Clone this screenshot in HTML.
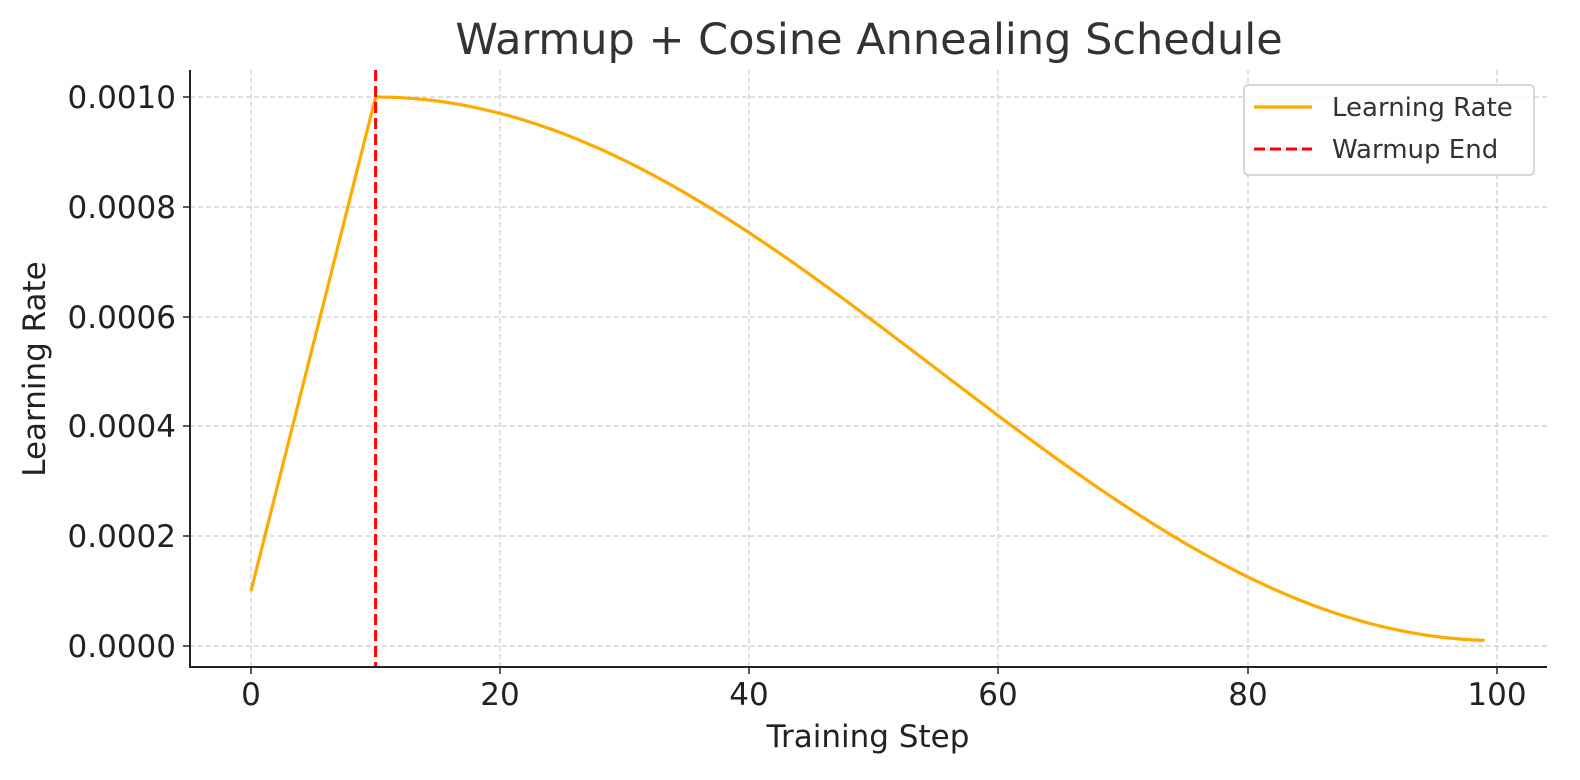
<!DOCTYPE html>
<html><head><meta charset="utf-8"><style>
html,body{margin:0;padding:0;background:#fff;}
svg{display:block;font-family:"DejaVu Sans","Liberation Sans",sans-serif;}
</style></head><body>
<svg id="s" width="1580" height="780" viewBox="0 0 1580 780" xmlns="http://www.w3.org/2000/svg">
<rect width="1580" height="780" fill="#fff"/>
<g stroke="#cccccc" stroke-width="1.2" stroke-dasharray="5,3">
<line x1="251" y1="70" x2="251" y2="667"/><line x1="500" y1="70" x2="500" y2="667"/><line x1="749" y1="70" x2="749" y2="667"/><line x1="998" y1="70" x2="998" y2="667"/><line x1="1248" y1="70" x2="1248" y2="667"/><line x1="1497" y1="70" x2="1497" y2="667"/>
<line x1="190" y1="97" x2="1547" y2="97"/><line x1="190" y1="207" x2="1547" y2="207"/><line x1="190" y1="317" x2="1547" y2="317"/><line x1="190" y1="426" x2="1547" y2="426"/><line x1="190" y1="536" x2="1547" y2="536"/><line x1="190" y1="646" x2="1547" y2="646"/>
</g>
<path id="c" fill="none" stroke="#FFAA00" stroke-width="3.2" stroke-linejoin="round"/>
<line x1="375.6" y1="70" x2="375.6" y2="667" stroke="#ff0000" stroke-width="3" stroke-dasharray="11,5"/>
<g stroke="#222" stroke-width="2"><line x1="190" y1="70" x2="190" y2="668"/><line x1="189" y1="667" x2="1547" y2="667"/></g>
<g stroke="#222" stroke-width="1.5">
<line x1="251" y1="667" x2="251" y2="674"/><line x1="500" y1="667" x2="500" y2="674"/><line x1="749" y1="667" x2="749" y2="674"/><line x1="998" y1="667" x2="998" y2="674"/><line x1="1248" y1="667" x2="1248" y2="674"/><line x1="1497" y1="667" x2="1497" y2="674"/>
<line x1="183" y1="97" x2="190" y2="97"/><line x1="183" y1="207" x2="190" y2="207"/><line x1="183" y1="317" x2="190" y2="317"/><line x1="183" y1="426" x2="190" y2="426"/><line x1="183" y1="536" x2="190" y2="536"/><line x1="183" y1="646" x2="190" y2="646"/>
</g>
<g fill="#222" font-size="31" text-anchor="middle">
<text x="251" y="705">0</text><text x="500" y="705">20</text><text x="749" y="705">40</text><text x="998" y="705">60</text><text x="1248" y="705">80</text><text x="1497" y="705">100</text>
</g>
<g fill="#222" font-size="31" text-anchor="end">
<text x="176" y="108">0.0010</text><text x="176" y="218">0.0008</text><text x="176" y="328">0.0006</text><text x="176" y="437">0.0004</text><text x="176" y="547">0.0002</text><text x="176" y="657">0.0000</text>
</g>
<text x="868" y="747" font-size="31" fill="#222" text-anchor="middle">Training Step</text>
<text transform="translate(45,369) rotate(-90)" font-size="31" fill="#222" text-anchor="middle">Learning Rate</text>
<text x="869" y="54" font-size="43" fill="#333" text-anchor="middle">Warmup + Cosine Annealing Schedule</text>
<rect x="1244" y="85" width="290" height="90" rx="4" fill="#fff" fill-opacity="0.85" stroke="#cccccc" stroke-width="1.5"/>
<line x1="1254" y1="107" x2="1312" y2="107" stroke="#FFAA00" stroke-width="3.2"/>
<line x1="1254" y1="149" x2="1312" y2="149" stroke="#ff0000" stroke-width="3" stroke-dasharray="11,5"/>
<text x="1332" y="116" font-size="26" fill="#333">Learning Rate</text>
<text x="1332" y="158" font-size="26" fill="#333">Warmup End</text>
</svg>
<script>
var d="";
function X(s){return 251+s*12.46;}
function Y(v){return 646-v*549000;}
for(var s=0;s<=99;s++){
 var v = s<=10 ? 1e-4+9e-5*s : 1e-5+0.5*(1e-3-1e-5)*(1+Math.cos(Math.PI*(s-10)/90));
 d+=(s?"L":"M")+X(s).toFixed(2)+","+Y(v).toFixed(2);
}
document.getElementById("c").setAttribute("d",d);
</script>
</body></html>
